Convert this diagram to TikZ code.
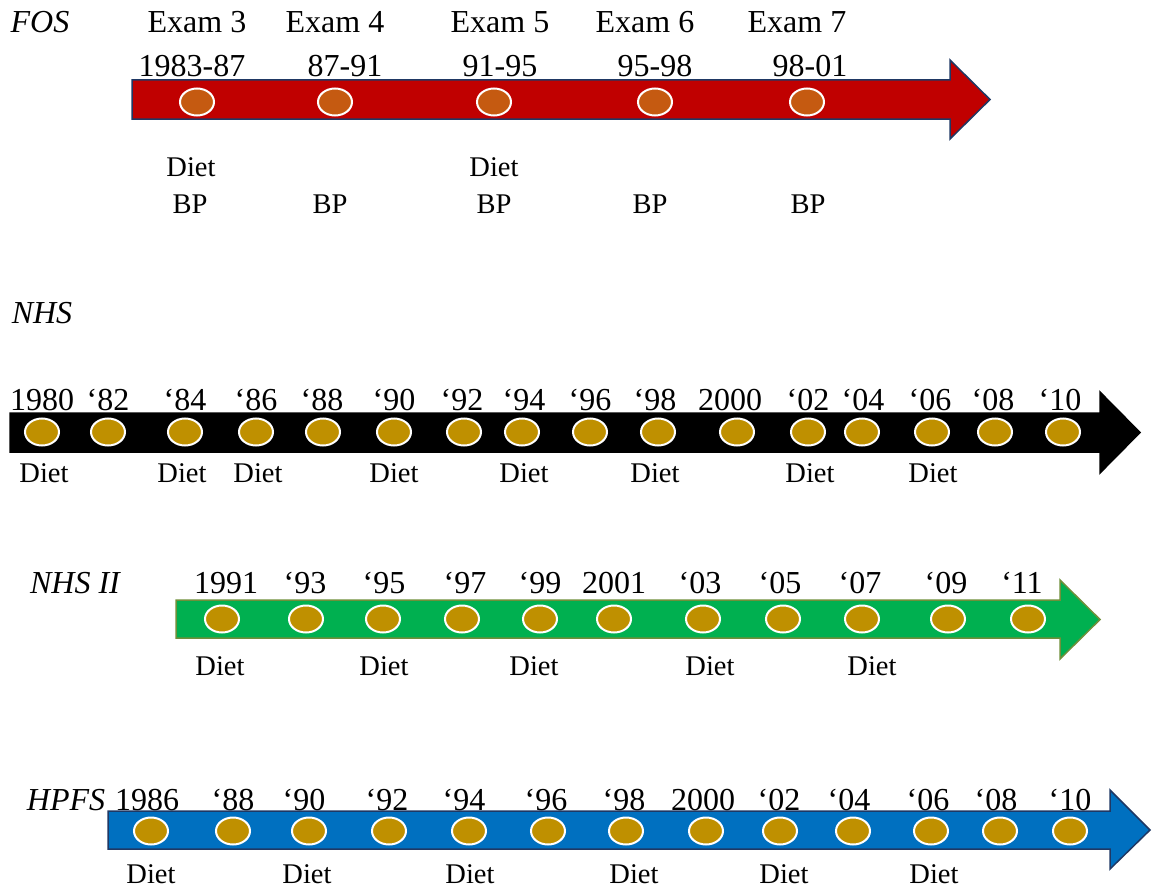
\documentclass[tikz,border=0pt]{standalone}
\usepackage{fontspec}
\setmainfont{Liberation Serif}
\usetikzlibrary{shapes.geometric}
\definecolor{fosred}{HTML}{C00000}
\definecolor{navy}{HTML}{1F3864}
\definecolor{fosdotc}{HTML}{C55A11}
\definecolor{gold}{HTML}{BF9000}
\definecolor{nhsgreen}{HTML}{00B050}
\definecolor{olive}{HTML}{6F8F3A}
\definecolor{hpblue}{HTML}{0070C0}
\begin{document}
\begin{tikzpicture}[x=1pt,y=-1pt]
\useasboundingbox (0,0) rectangle (1152,891);
\tikzset{
  dotbase/.style={ellipse, minimum width=34pt, minimum height=27pt, inner sep=0pt, draw=white, line width=2pt},
  fosdot/.style={dotbase, fill=fosdotc},
  golddot/.style={dotbase, fill=gold},
  lbl/.style={font=\fontsize{32}{36}\selectfont, inner sep=0pt},
  sm/.style={font=\fontsize{28.5}{32}\selectfont, inner sep=0pt},
  ttl/.style={font=\fontsize{32}{36}\selectfont\itshape, inner sep=0pt},
  band/.style={line width=1.5pt, line join=miter}
}
% ---------------- FOS ----------------
\node[ttl] (tfos) at (40,22) {FOS};
\draw[band, fill=fosred, draw=navy] (132,80) -- (950,80) -- (950,60) -- (990,99.5) -- (950,139) -- (950,119) -- (132,119) -- cycle;
\foreach \x [count=\i] in {197,335,494,655,807}
  \node[fosdot] (f\i) at (\x,102) {};
\foreach \x/\t [count=\i] in {197/Exam 3,335/Exam 4,500/Exam 5,645/Exam 6,797/Exam 7}
  \node[lbl] (fe\i) at (\x,22) {\t};
\foreach \x/\t [count=\i] in {192/1983-87,345/87-91,500/91-95,655/95-98,810/98-01}
  \node[lbl] (fy\i) at (\x,66) {\t};
\node[sm] (fd1) at (191,167) {Diet};
\node[sm] (fd2) at (494,167) {Diet};
\foreach \x [count=\i] in {190,330,494,650,808}
  \node[sm] (fb\i) at (\x,204) {BP};
% ---------------- NHS ----------------
\node[ttl] (tnhs) at (42,313) {NHS};
\draw[band, fill=black, draw=black] (10,413) -- (1100,413) -- (1100,392) -- (1140,432.5) -- (1100,473) -- (1100,452) -- (10,452) -- cycle;
\foreach \x [count=\i] in {42,108,185,256,323,394,464,522,590,658,737,808,862,932,995,1063}
  \node[golddot] (n\i) at (\x,432) {};
\foreach \x/\t [count=\i] in {42/1980,108/‘82,185/‘84,256/‘86,322/‘88,394/‘90,462/‘92,524/‘94,590/‘96,655/‘98,730/2000,808/‘02,863/‘04,930/‘06,993/‘08,1060/‘10}
  \node[lbl] (ny\i) at (\x,400) {\t};
\foreach \x [count=\i] in {44,182,258,394,524,655,810,933}
  \node[sm] (nd\i) at (\x,473) {Diet};
% ---------------- NHS II ----------------
\node[ttl] (tnhs2) at (75,583) {NHS II};
\draw[band, fill=nhsgreen, draw=olive] (176,600) -- (1060,600) -- (1060,580) -- (1100,619.5) -- (1060,659) -- (1060,638) -- (176,638) -- cycle;
\foreach \x [count=\i] in {222,306,383,462,540,614,703,783,862,948,1028}
  \node[golddot] (m\i) at (\x,619) {};
\foreach \x/\t [count=\i] in {226/1991,305/‘93,384/‘95,465/‘97,540/‘99,614/2001,700/‘03,780/‘05,860/‘07,946/‘09,1022/‘11}
  \node[lbl] (my\i) at (\x,583) {\t};
\foreach \x [count=\i] in {220,384,534,710,872}
  \node[sm] (md\i) at (\x,666) {Diet};
% ---------------- HPFS ----------------
\node[ttl] (thp) at (66,800) {HPFS};
\draw[band, fill=hpblue, draw=navy] (108,811) -- (1110,811) -- (1110,790) -- (1150,830) -- (1110,869) -- (1110,849) -- (108,849) -- cycle;
\foreach \x [count=\i] in {151,233,309,389,469,548,626,706,780,853,931,1000,1070}
  \node[golddot] (h\i) at (\x,831) {};
\foreach \x/\t [count=\i] in {147/1986,233/‘88,304/‘90,387/‘92,464/‘94,546/‘96,624/‘98,703/2000,779/‘02,849/‘04,928/‘06,996/‘08,1070/‘10}
  \node[lbl] (hy\i) at (\x,800) {\t};
\foreach \x [count=\i] in {151,307,470,634,784,934}
  \node[sm] (hd\i) at (\x,874) {Diet};
\end{tikzpicture}
\end{document}
